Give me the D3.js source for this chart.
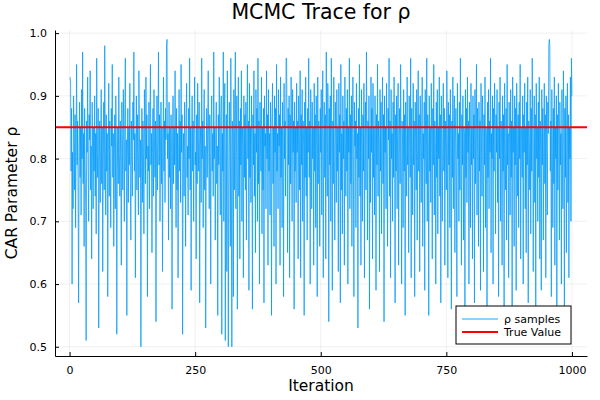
<!DOCTYPE html>
<html>
<head>
<meta charset="utf-8">
<script src="https://cdn.jsdelivr.net/npm/d3@7"></script>
<style>
  body { margin: 0; background: #fff; }
  text { font-family: "DejaVu Sans", sans-serif; }
</style>
</head>
<body>
<svg id="trace" width="600" height="400"></svg>
<script>
// rho draws
const rhoSamples = [
  0.93,0.92,0.78,0.88,0.60,0.81,0.72,0.90,0.84,0.75,0.87,0.69,0.83,0.95,0.79,0.86,0.74,0.57,0.82,0.89,0.77,0.85,0.71,0.91,0.80,0.97,0.76,0.84,0.66,0.88,0.79,0.73,0.51,0.86,0.81,0.93,0.78,0.70,0.87,0.83,0.94,0.75,0.82,0.64,0.89,0.80,0.72,0.85,0.78,0.90,
  0.74,0.84,0.68,0.96,0.81,0.77,0.88,0.53,0.79,0.86,0.73,0.82,0.91,0.76,0.85,0.62,0.80,0.89,0.75,0.98,0.83,0.71,0.87,0.78,0.84,0.58,0.81,0.92,0.74,0.86,0.79,0.69,0.88,0.82,0.95,0.77,0.84,0.66,0.80,0.87,0.72,0.90,0.83,0.52,0.78,0.85,0.76,0.93,0.81,0.74,
  0.86,0.79,0.63,0.89,0.82,0.75,0.91,0.84,0.70,0.87,0.96,0.78,0.83,0.55,0.80,0.88,0.73,0.85,0.79,0.92,0.76,0.67,0.86,0.81,0.74,0.89,0.83,0.97,0.78,0.84,0.61,0.82,0.90,0.75,0.87,0.80,0.71,0.94,0.85,0.77,0.83,0.50,0.79,0.88,0.73,0.86,0.81,0.68,0.91,0.84,
  0.76,0.93,0.80,0.87,0.58,0.82,0.78,0.89,0.72,0.85,0.95,0.79,0.84,0.65,0.81,0.88,0.74,0.91,0.83,0.77,0.86,0.54,0.80,0.90,0.75,0.84,0.97,0.79,0.87,0.70,0.82,0.89,0.76,0.85,0.62,0.81,0.93,0.78,0.86,0.73,0.88,0.83,0.98,0.99,0.80,0.84,0.67,0.89,0.77,0.85,
  0.72,0.87,0.81,0.56,0.83,0.90,0.76,0.85,0.79,0.94,0.82,0.69,0.88,0.75,0.84,0.61,0.80,0.91,0.78,0.86,0.73,0.95,0.81,0.87,0.52,0.79,0.84,0.74,0.89,0.83,0.66,0.86,0.92,0.77,0.82,0.71,0.88,0.80,0.96,0.75,0.85,0.59,0.83,0.90,0.78,0.86,0.70,0.84,0.93,0.79,
  0.81,0.64,0.87,0.76,0.92,0.83,0.78,0.89,0.57,0.82,0.85,0.73,0.96,0.80,0.86,0.69,0.84,0.91,0.75,0.82,0.53,0.79,0.88,0.77,0.85,0.94,0.81,0.72,0.87,0.83,0.60,0.86,0.90,0.78,0.84,0.74,0.97,0.80,0.85,0.67,0.83,0.89,0.76,0.82,0.55,0.87,0.79,0.93,0.81,0.71,
  0.86,0.90,0.52,0.84,0.78,0.97,0.70,0.85,0.92,0.51,0.80,0.87,0.62,0.94,0.83,0.50,0.76,0.89,0.82,0.66,0.96,0.79,0.50,0.86,0.84,0.58,0.91,0.75,0.88,0.97,0.72,0.83,0.90,0.56,0.81,0.93,0.74,0.86,0.64,0.88,0.79,0.94,0.70,0.85,0.82,0.61,0.90,0.77,0.87,0.75,
  0.89,0.67,0.84,0.95,0.80,0.86,0.59,0.92,0.77,0.85,0.73,0.90,0.82,0.56,0.87,0.79,0.94,0.74,0.84,0.65,0.91,0.81,0.88,0.70,0.96,0.76,0.86,0.60,0.89,0.83,0.78,0.93,0.68,0.85,0.75,0.88,0.57,0.90,0.82,0.84,0.72,0.94,0.80,0.87,0.63,0.91,0.78,0.84,0.71,0.89,
  0.83,0.55,0.86,0.92,0.76,0.85,0.66,0.90,0.81,0.88,0.60,0.95,0.78,0.84,0.72,0.91,0.82,0.87,0.63,0.93,0.77,0.85,0.69,0.89,0.83,0.58,0.92,0.80,0.86,0.74,0.96,0.96,0.84,0.65,0.88,0.79,0.90,0.61,0.87,0.76,0.93,0.82,0.70,0.91,0.81,0.86,0.56,0.89,0.78,0.85,
  0.73,0.92,0.81,0.86,0.64,0.90,0.84,0.75,0.94,0.61,0.87,0.79,0.91,0.70,0.86,0.82,0.55,0.89,0.77,0.93,0.74,0.85,0.67,0.88,0.81,0.96,0.77,0.86,0.60,0.91,0.83,0.72,0.89,0.80,0.85,0.63,0.92,0.78,0.87,0.69,0.90,0.82,0.58,0.93,0.76,0.86,0.84,0.66,0.88,0.81,
  0.91,0.71,0.85,0.94,0.61,0.83,0.89,0.77,0.87,0.64,0.97,0.81,0.74,0.92,0.85,0.54,0.88,0.79,0.90,0.70,0.96,0.82,0.59,0.86,0.76,0.93,0.80,0.67,0.89,0.84,0.73,0.91,0.78,0.85,0.62,0.92,0.81,0.87,0.57,0.95,0.75,0.84,0.68,0.90,0.80,0.86,0.63,0.93,0.83,0.74,
  0.88,0.78,0.91,0.60,0.85,0.81,0.96,0.72,0.87,0.76,0.90,0.66,0.84,0.93,0.79,0.58,0.89,0.82,0.86,0.69,0.92,0.80,0.84,0.53,0.88,0.77,0.95,0.74,0.85,0.63,0.91,0.81,0.70,0.87,0.78,0.92,0.61,0.84,0.89,0.75,0.97,0.83,0.67,0.86,0.80,0.90,0.56,0.85,0.73,0.93,
  0.81,0.88,0.64,0.92,0.77,0.85,0.71,0.90,0.83,0.59,0.87,0.79,0.95,0.74,0.86,0.82,0.62,0.91,0.78,0.89,0.68,0.84,0.93,0.76,0.87,0.54,0.90,0.81,0.85,0.72,0.92,0.79,0.66,0.88,0.83,0.96,0.74,0.86,0.61,0.91,0.80,0.84,0.70,0.89,0.77,0.93,0.82,0.57,0.87,0.78,
  0.90,0.72,0.85,0.92,0.63,0.83,0.88,0.76,0.95,0.80,0.60,0.86,0.82,0.69,0.91,0.78,0.87,0.55,0.89,0.81,0.74,0.93,0.79,0.85,0.65,0.90,0.84,0.77,0.96,0.61,0.88,0.81,0.71,0.92,0.79,0.86,0.58,0.89,0.83,0.75,0.91,0.67,0.85,0.94,0.78,0.87,0.62,0.90,0.82,0.73,
  0.86,0.93,0.66,0.84,0.80,0.89,0.59,0.91,0.81,0.76,0.96,0.70,0.87,0.83,0.55,0.90,0.78,0.85,0.73,0.92,0.81,0.64,0.88,0.79,0.95,0.71,0.86,0.83,0.60,0.89,0.77,0.91,0.68,0.85,0.80,0.93,0.74,0.87,0.57,0.90,0.82,0.70,0.84,0.92,0.78,0.88,0.63,0.86,0.81,0.75,
  0.94,0.83,0.61,0.89,0.79,0.87,0.69,0.91,0.81,0.56,0.86,0.77,0.93,0.72,0.85,0.90,0.65,0.83,0.88,0.78,0.58,0.92,0.80,0.84,0.70,0.89,0.75,0.96,0.82,0.63,0.87,0.79,0.90,0.67,0.85,0.84,0.54,0.91,0.77,0.88,0.73,0.93,0.81,0.86,0.60,0.89,0.83,0.69,0.92,0.79,
  0.85,0.64,0.90,0.80,0.87,0.57,0.91,0.76,0.84,0.95,0.71,0.88,0.82,0.66,0.89,0.78,0.86,0.59,0.92,0.81,0.74,0.90,0.84,0.62,0.87,0.79,0.93,0.69,0.85,0.83,0.55,0.89,0.77,0.91,0.72,0.86,0.81,0.96,0.65,0.84,0.80,0.90,0.60,0.88,0.78,0.92,0.84,0.68,0.87,0.81,
  0.91,0.73,0.85,0.58,0.89,0.80,0.93,0.70,0.86,0.83,0.63,0.90,0.78,0.87,0.56,0.92,0.81,0.75,0.88,0.67,0.95,0.79,0.84,0.61,0.89,0.82,0.71,0.91,0.77,0.86,0.54,0.93,0.81,0.85,0.66,0.90,0.79,0.88,0.59,0.92,0.84,0.74,0.87,0.69,0.89,0.80,0.95,0.64,0.85,0.83,
  0.77,0.90,0.60,0.87,0.81,0.92,0.72,0.85,0.65,0.89,0.79,0.93,0.57,0.86,0.82,0.75,0.91,0.68,0.88,0.78,0.96,0.83,0.62,0.84,0.90,0.73,0.87,0.55,0.92,0.80,0.85,0.70,0.89,0.77,0.93,0.64,0.86,0.81,0.59,0.91,0.79,0.88,0.67,0.84,0.92,0.76,0.87,0.61,0.90,0.81,
  0.71,0.89,0.84,0.98,0.99,0.98,0.78,0.86,0.58,0.91,0.81,0.69,0.88,0.76,0.93,0.63,0.85,0.80,0.90,0.56,0.87,0.75,0.92,0.83,0.67,0.89,0.79,0.84,0.60,0.91,0.81,0.72,0.94,0.86,0.54,0.88,0.77,0.90,0.65,0.84,0.92,0.73,0.87,0.61,0.85,0.80,0.93,0.70,0.96,0.90
];
const trueRho = 0.85;
const xTicks = [0, 250, 500, 750, 1000];
const yTicks = [0.5, 0.6, 0.7, 0.8, 0.9, 1.0];
const seriesNames = ["ρ samples", "True Value"];

const margin = { top: 30, right: 13, bottom: 44, left: 55 };
const svg = d3.select("svg#trace"),
  width = +svg.attr("width") - margin.left - margin.right,
  height = +svg.attr("height") - margin.top - margin.bottom,
  g = svg.append("g").attr("transform", `translate(${margin.left}, ${margin.top})`);

const data = rhoSamples.map((v, i) => ({ iter: i + 1, value: v }));

const x = d3.scaleLinear().domain([-29, 1030]).range([0, width]);
const y = d3.scaleLinear().domain([0.4853, 1.005]).range([height, 0]);

// grid
g.append("g")
  .selectAll("line.gx")
  .data(xTicks)
  .enter().append("line")
  .attr("x1", d => x(d)).attr("x2", d => x(d))
  .attr("y1", 0).attr("y2", height)
  .attr("stroke", "#000").attr("stroke-opacity", 0.08).attr("stroke-width", 0.8);

g.append("g")
  .selectAll("line.gy")
  .data(yTicks)
  .enter().append("line")
  .attr("x1", 0).attr("x2", width)
  .attr("y1", d => y(d)).attr("y2", d => y(d))
  .attr("stroke", "#000").attr("stroke-opacity", 0.08).attr("stroke-width", 0.8);

// trace
const line = d3.line()
  .x(d => x(d.iter))
  .y(d => y(d.value));

g.append("path")
  .datum(data)
  .attr("fill", "none")
  .attr("stroke", "#009afa")
  .attr("stroke-opacity", 0.75)
  .attr("stroke-width", 1)
  .attr("d", line);

// true value
g.append("line")
  .attr("x1", 0).attr("x2", width)
  .attr("y1", y(trueRho)).attr("y2", y(trueRho))
  .attr("stroke", "#ff0000")
  .attr("stroke-width", 2);

// axes, ticks pointing inward
const xAxis = g.append("g")
  .attr("transform", `translate(0, ${height})`)
  .call(d3.axisBottom(x).tickValues(xTicks).tickFormat(d3.format("d")).tickSizeInner(-4).tickSizeOuter(0).tickPadding(8));
const yAxis = g.append("g")
  .call(d3.axisLeft(y).tickValues(yTicks).tickFormat(d3.format(".1f")).tickSizeInner(-4).tickSizeOuter(0).tickPadding(8));

[xAxis, yAxis].forEach(a => {
  a.select(".domain").attr("stroke", "#000").attr("stroke-width", 1);
  a.selectAll(".tick line").attr("stroke", "#000");
  a.selectAll(".tick text")
    .attr("fill", "#000")
    .style("font-family", "'DejaVu Sans', sans-serif")
    .style("font-size", "11px");
});
xAxis.selectAll(".tick text").attr("dy", "0.9em");

// title and labels
svg.append("text")
  .attr("x", margin.left + width / 2)
  .attr("y", 19)
  .style("text-anchor", "middle")
  .style("font-size", "20.5px")
  .text("MCMC Trace for ρ");

svg.append("text")
  .attr("x", margin.left + width / 2)
  .attr("y", 391)
  .style("text-anchor", "middle")
  .style("font-size", "15.5px")
  .text("Iteration");

svg.append("text")
  .attr("transform", `translate(17, ${margin.top + height / 2}) rotate(-90)`)
  .style("text-anchor", "middle")
  .style("font-size", "15.5px")
  .text("CAR Parameter ρ");

// legend
const legend = svg.append("g").attr("transform", "translate(456, 306)");
legend.append("rect")
  .attr("width", 115).attr("height", 38)
  .attr("fill", "#fff").attr("stroke", "#000").attr("stroke-width", 1);

const legendColors = ["#009afa", "#ff0000"];
const legendItems = legend.selectAll(".legend")
  .data(seriesNames)
  .enter().append("g")
  .attr("class", "legend")
  .attr("transform", (d, i) => `translate(0, ${13 + i * 13})`);

legendItems.append("line")
  .attr("x1", 6).attr("x2", 42)
  .attr("stroke", (d, i) => legendColors[i])
  .attr("stroke-opacity", (d, i) => i === 0 ? 0.6 : 1)
  .attr("stroke-width", (d, i) => i === 0 ? 1.5 : 2);

legendItems.append("text")
  .attr("x", 48)
  .attr("dy", "0.35em")
  .style("font-size", "11px")
  .text(d => d);
</script>
</body>
</html>
